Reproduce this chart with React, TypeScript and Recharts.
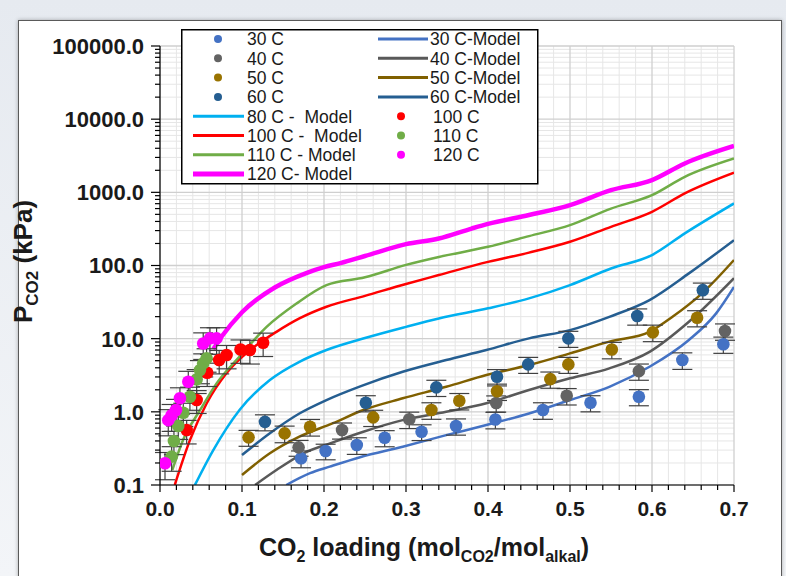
import React from "react";
import {
  CartesianGrid,
  ComposedChart,
  ErrorBar,
  Legend,
  Line,
  ReferenceLine,
  Scatter,
  XAxis,
  YAxis,
} from "recharts";

type P2 = [number, number];
type P3 = [number, number, number];

// axis tick labels
const xMajor = [0, 0.1, 0.2, 0.3, 0.4, 0.5, 0.6, 0.7];
const yMajor = [0.1, 1, 10, 100, 1000, 10000, 100000];

// measured points: [CO2 loading, P CO2 (kPa), error]
const exp30: P3[] = [
  [0.172, 0.232, 0.06], [0.202, 0.291, 0.07], [0.24, 0.352, 0.09], [0.274, 0.443, 0.11],
  [0.319, 0.535, 0.13], [0.361, 0.64, 0.16], [0.409, 0.785, 0.2], [0.467, 1.06, 0.27],
  [0.525, 1.33, 0.33], [0.584, 1.61, 0.4], [0.637, 5.1, 1.3], [0.687, 8.4, 2.1],
];
const exp40: P3[] = [
  [0.169, 0.327, 0.08], [0.222, 0.564, 0.14], [0.304, 0.79, 0.2], [0.41, 1.32, 0.33],
  [0.496, 1.66, 0.42], [0.584, 3.6, 0.9], [0.689, 12.7, 3.2],
];
const exp50: P3[] = [
  [0.108, 0.448, 0.11], [0.152, 0.508, 0.13], [0.183, 0.626, 0.16], [0.26, 0.84, 0.21],
  [0.331, 1.06, 0.27], [0.365, 1.42, 0.36], [0.411, 1.91, 0.48], [0.476, 2.8, 0.7],
  [0.498, 4.45, 1.1], [0.551, 7.1, 1.8], [0.601, 12.2, 3.1], [0.655, 19.3, 4.8],
];
const exp60: P3[] = [
  [0.128, 0.73, 0.18], [0.251, 1.33, 0.33], [0.337, 2.16, 0.54], [0.411, 3.02, 0.76],
  [0.449, 4.45, 1.1], [0.498, 10.1, 2.5], [0.582, 20.4, 5.1], [0.662, 46, 11.5],
];
const exp100: P3[] = [
  [0.0325, 0.564, 0.2], [0.0447, 1.45, 0.5], [0.0576, 3.42, 1.2], [0.0722, 5.1, 1.8],
  [0.0812, 5.97, 2.1], [0.0982, 7.1, 2.5], [0.1096, 7.0, 2.5], [0.1258, 8.8, 3.1],
];
const exp110: P3[] = [
  [0.0142, 0.244, 0.09], [0.017, 0.4, 0.14], [0.0223, 0.64, 0.22], [0.0284, 0.97, 0.34],
  [0.0365, 1.61, 0.56], [0.0447, 2.78, 1.0], [0.0487, 3.72, 1.3], [0.0527, 4.6, 1.6],
  [0.0568, 5.38, 1.9],
];
const exp120: P3[] = [
  [0.0061, 0.198, 0.08], [0.0101, 0.77, 0.3], [0.0142, 0.9, 0.36], [0.0195, 1.06, 0.42],
  [0.0243, 1.53, 0.6], [0.0345, 2.58, 1.0], [0.0527, 8.6, 3.4], [0.0609, 10.1, 4],
  [0.069, 10.1, 4],
];

// model curves: [CO2 loading, P CO2 (kPa)]
const model30: P2[] = [
  [0.154, 0.1], [0.183, 0.145], [0.207, 0.178], [0.244, 0.24], [0.296, 0.334], [0.349, 0.48],
  [0.398, 0.66], [0.45, 0.95], [0.5, 1.45], [0.548, 2.2], [0.597, 4.13], [0.645, 9.6],
  [0.678, 22], [0.7, 51],
];
const model40: P2[] = [
  [0.116, 0.1], [0.142, 0.16], [0.175, 0.271], [0.21, 0.38], [0.248, 0.535], [0.296, 0.77],
  [0.349, 1.0], [0.398, 1.31], [0.45, 1.99], [0.5, 2.87], [0.548, 3.93], [0.597, 6.6],
  [0.645, 17], [0.7, 67],
];
const model50: P2[] = [
  [0.1, 0.137], [0.134, 0.271], [0.17, 0.457], [0.211, 0.7], [0.248, 1.06], [0.296, 1.53],
  [0.349, 2.2], [0.398, 3.18], [0.45, 4.36], [0.5, 6.3], [0.548, 9.1], [0.597, 12.4],
  [0.625, 19.9], [0.661, 41.6], [0.7, 119],
];
const model60: P2[] = [
  [0.1, 0.257], [0.134, 0.51], [0.17, 0.95], [0.203, 1.45], [0.245, 2.25], [0.296, 3.53],
  [0.349, 5.1], [0.398, 7.0], [0.45, 10.1], [0.5, 13.1], [0.548, 19.9], [0.597, 33.7],
  [0.645, 78], [0.7, 222],
];
const model80: P2[] = [
  [0.0426, 0.1], [0.065, 0.3], [0.097, 1.06], [0.134, 2.72], [0.17, 4.83], [0.203, 7.0],
  [0.25, 10.2], [0.3, 14.5], [0.34, 18.9], [0.4, 26], [0.45, 35.5], [0.5, 54], [0.55, 91],
  [0.6, 139], [0.64, 275], [0.7, 705],
];
const model100: P2[] = [
  [0.018, 0.1], [0.0365, 0.41], [0.057, 1.31], [0.081, 3.36], [0.11, 7.0], [0.142, 12.4],
  [0.17, 18.9], [0.203, 27.3], [0.25, 38.5], [0.3, 56], [0.34, 74], [0.4, 112], [0.45, 150],
  [0.5, 211], [0.55, 338], [0.6, 542], [0.64, 966], [0.7, 1850],
];
const model110: P2[] = [
  [0.015, 0.16], [0.028, 0.41], [0.049, 1.06], [0.069, 2.45], [0.097, 5.7], [0.13, 14.5],
  [0.166, 30], [0.203, 54], [0.25, 69], [0.3, 102], [0.34, 131], [0.4, 180], [0.45, 252],
  [0.5, 356], [0.55, 600], [0.6, 916], [0.64, 1630], [0.7, 2900],
];
const model120: P2[] = [
  [0.065, 7.2], [0.075, 10.6], [0.1, 23], [0.14, 50], [0.18, 80], [0.2, 95], [0.22, 108],
  [0.25, 135], [0.3, 196], [0.34, 234], [0.38, 320], [0.4, 370], [0.45, 490], [0.5, 670],
  [0.55, 1070], [0.6, 1470], [0.64, 2480], [0.7, 4300],
];

const expSeries = [
  { name: "30 C", color: "#4472C4", data: exp30 },
  { name: "40 C", color: "#636363", data: exp40 },
  { name: "50 C", color: "#997300", data: exp50 },
  { name: "60 C", color: "#255E91", data: exp60 },
  { name: "100 C", color: "#FF0000", data: exp100 },
  { name: "110 C", color: "#70AD47", data: exp110 },
  { name: "120 C", color: "#FF00FF", data: exp120 },
];
const modelSeries = [
  { name: "30 C-Model", color: "#4472C4", width: 2.5, data: model30 },
  { name: "40 C-Model", color: "#595959", width: 2.5, data: model40 },
  { name: "50 C-Model", color: "#806000", width: 2.5, data: model50 },
  { name: "60 C-Model", color: "#255E91", width: 2.5, data: model60 },
  { name: "80 C -  Model", color: "#00B0F0", width: 2.5, data: model80 },
  { name: "100 C -  Model", color: "#FF0000", width: 2.5, data: model100 },
  { name: "110 C - Model", color: "#70AD47", width: 2.5, data: model110 },
  { name: "120 C- Model", color: "#FF00FF", width: 4.5, data: model120 },
];

const FONT = "'Liberation Sans', Arial, sans-serif";

const near = (list: number[], v: number) => list.some((m) => Math.abs(m - v) <= m * 1e-6 + 1e-9);

const xTicks: number[] = [];
for (let i = 0; i <= 35; i++) xTicks.push(Math.round(i * 2) / 100);
const yTicks: number[] = [];
yMajor.forEach((d, i) => {
  if (i === yMajor.length - 1) yTicks.push(d);
  else for (let k = 1; k <= 9; k++) yTicks.push(k * d);
});
const xMinor = xTicks.filter((v) => !near(xMajor, v));
const yMinor = yTicks.filter((v) => !near(yMajor, v));

const XTick = (props: any) => {
  const { x, y, payload } = props;
  const major = near(xMajor, payload.value);
  return (
    <g>
      <line x1={x} x2={x} y1={y} y2={y + (major ? 7 : 5)} stroke="#000" strokeWidth={1.2} />
      {major && (
        <text x={x} y={y + 31} textAnchor="middle" fontFamily={FONT} fontWeight="bold" fontSize={21} fill="#1a1a1a">
          {payload.value.toFixed(1)}
        </text>
      )}
    </g>
  );
};

const YTick = (props: any) => {
  const { x, y, payload } = props;
  const major = near(yMajor, payload.value);
  return (
    <g>
      <line x1={x - (major ? 9 : 5)} x2={x} y1={y} y2={y} stroke="#000" strokeWidth={1.2} />
      {major && (
        <text x={x - 16} y={y} dy="0.36em" textAnchor="end" fontFamily={FONT} fontWeight="bold" fontSize={22} fill="#1a1a1a">
          {payload.value.toFixed(1)}
        </text>
      )}
    </g>
  );
};

const XTitle = (props: any) => {
  const vb = props.viewBox;
  const cx = vb.x + vb.width / 2 - 23;
  const cy = vb.y + 71;
  return (
    <text x={cx} y={cy} textAnchor="middle" fontFamily={FONT} fontWeight="bold" fontSize={25} fill="#1a1a1a">
      CO<tspan dy={6} fontSize={16}>2</tspan>
      <tspan dy={-6}> loading (mol</tspan>
      <tspan dy={6} fontSize={16}>CO2</tspan>
      <tspan dy={-6}>/mol</tspan>
      <tspan dy={6} fontSize={16}>alkal</tspan>
      <tspan dy={-6}>)</tspan>
    </text>
  );
};

const YTitle = (props: any) => {
  const vb = props.viewBox;
  const cx = vb.x + 32;
  const cy = vb.y + vb.height / 2 - 4;
  return (
    <text x={cx} y={cy} transform={`rotate(-90, ${cx}, ${cy})`} textAnchor="middle" fontFamily={FONT} fontWeight="bold" fontSize={26} fill="#1a1a1a">
      P<tspan dy={6} fontSize={17}>CO2</tspan>
      <tspan dy={-6}> (kPa)</tspan>
    </text>
  );
};

const LegendBox = () => {
  const rowY = (i: number) => 10 + i * 19.3;
  const txt = { fontFamily: FONT, fontSize: 17.5, fill: "#1a1a1a", whiteSpace: "pre" as const };
  return (
    <svg width={358} height={156} style={{ display: "block" }}>
      <rect x={0.75} y={0.75} width={356} height={154} fill="#fff" stroke="#000" strokeWidth={1.5} />
      {expSeries.slice(0, 4).map((s, i) => (
        <g key={s.name}>
          <circle cx={37} cy={rowY(i)} r={4} fill={s.color} />
          <text x={66} y={rowY(i)} dy="0.36em" style={txt}>{s.name}</text>
        </g>
      ))}
      {modelSeries.slice(0, 4).map((s, i) => (
        <g key={s.name}>
          <line x1={197} x2={247} y1={rowY(i)} y2={rowY(i)} stroke={s.color} strokeWidth={3} />
          <text x={249} y={rowY(i)} dy="0.36em" style={txt}>{s.name}</text>
        </g>
      ))}
      {modelSeries.slice(4).map((s, i) => (
        <g key={s.name}>
          <line x1={12} x2={63} y1={rowY(i + 4)} y2={rowY(i + 4)} stroke={s.color} strokeWidth={s.width + 0.5} />
          <text x={66} y={rowY(i + 4)} dy="0.36em" style={txt}>{s.name}</text>
        </g>
      ))}
      {expSeries.slice(4).map((s, i) => (
        <g key={s.name}>
          <circle cx={220} cy={rowY(i + 4)} r={4} fill={s.color} />
          <text x={252} y={rowY(i + 4)} dy="0.36em" style={txt}>{s.name}</text>
        </g>
      ))}
    </svg>
  );
};

export default function App() {
  return (
    <div
      style={{
        position: "absolute",
        left: 0,
        top: 0,
        width: 786,
        height: 576,
        overflow: "hidden",
        background: "linear-gradient(#e6eaf0, #f3f5f8)",
      }}
    >
      <div
        style={{
          position: "absolute",
          left: 18,
          top: 20,
          width: 762,
          height: 600,
          background: "#fff",
          border: "1.5px solid #5a5a5a",
          boxShadow: "0 0 4px rgba(0,0,0,0.3)",
        }}
      />
      <div style={{ position: "absolute", left: 0, top: 0 }}>
        <ComposedChart width={786} height={576} margin={{ top: 46, right: 52, bottom: 0, left: 0 }}>
          <CartesianGrid stroke="#e6e6e6" strokeWidth={1} verticalValues={xMinor} horizontalValues={yMinor} />
          {xMajor.map((v) => (
            <ReferenceLine key={"vx" + v} x={v} stroke="#cfcfcf" strokeWidth={1.3} />
          ))}
          {yMajor.map((v) => (
            <ReferenceLine key={"hy" + v} y={v} stroke="#cfcfcf" strokeWidth={1.3} />
          ))}
          <XAxis
            type="number"
            dataKey="x"
            domain={[0, 0.7]}
            ticks={xTicks}
            interval={0}
            allowDataOverflow
            height={91}
            tickSize={0}
            tickMargin={0}
            tickLine={false}
            tick={<XTick />}
            axisLine={{ stroke: "#000", strokeWidth: 1.2 }}
            label={<XTitle />}
          />
          <YAxis
            type="number"
            dataKey="y"
            scale="log"
            domain={[0.1, 100000]}
            ticks={yTicks}
            interval={0}
            allowDataOverflow
            width={160}
            tickSize={0}
            tickMargin={0}
            tickLine={false}
            tick={<YTick />}
            axisLine={{ stroke: "#000", strokeWidth: 1.2 }}
            label={<YTitle />}
          />
          {modelSeries.map((s) => (
            <Line
              key={s.name}
              name={s.name}
              data={s.data.map(([x, y]) => ({ x, y }))}
              dataKey="y"
              type="monotone"
              stroke={s.color}
              strokeWidth={s.width}
              dot={false}
              activeDot={false}
              isAnimationActive={false}
            />
          ))}
          {expSeries.map((s) => (
            <Scatter
              key={s.name}
              name={s.name}
              data={s.data.map(([x, y, err]) => ({ x, y, err }))}
              dataKey="y"
              fill={s.color}
              isAnimationActive={false}
              shape={(p: any) => <circle cx={p.cx} cy={p.cy} r={6.3} fill={s.color} />}
            >
              <ErrorBar dataKey="err" direction="y" width={10} stroke="#404040" strokeWidth={1.2} isAnimationActive={false} />
            </Scatter>
          ))}
          <Legend
            layout="vertical"
            align="center"
            verticalAlign="middle"
            content={<LegendBox />}
            wrapperStyle={{ position: "absolute", left: 181, top: 29, width: 358, height: 156 }}
          />
        </ComposedChart>
      </div>
    </div>
  );
}
